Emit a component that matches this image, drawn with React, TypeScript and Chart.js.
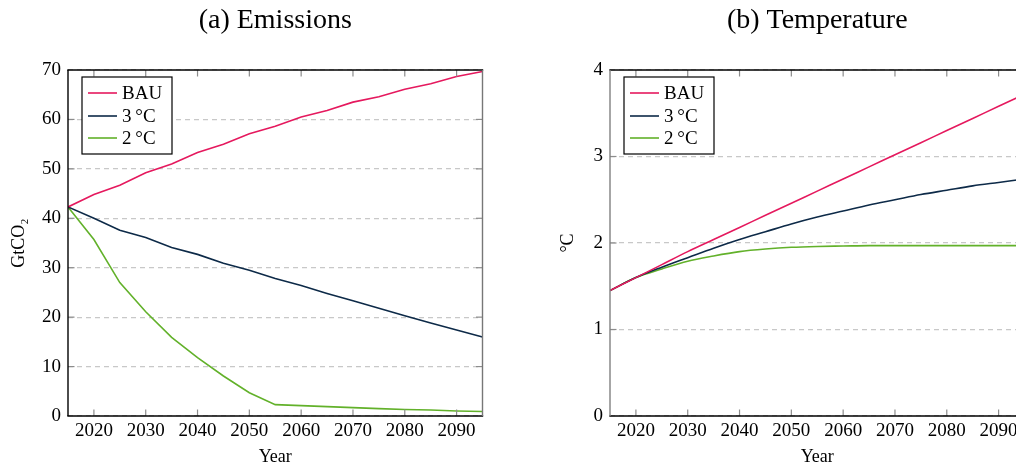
import React, { useEffect, useRef } from "react";
import { Chart, registerables } from "chart.js";

Chart.register(...registerables);

// ---------- data ----------
const years = [2015, 2020, 2025, 2030, 2035, 2040, 2045, 2050, 2055, 2060, 2065, 2070, 2075, 2080, 2085, 2090, 2095];

const emissionsBAU = [42.3, 44.8, 46.7, 49.2, 51.0, 53.3, 55.0, 57.1, 58.6, 60.5, 61.8, 63.5, 64.6, 66.1, 67.2, 68.7, 69.7];
const emissions3C = [42.3, 40.0, 37.6, 36.1, 34.1, 32.7, 30.9, 29.5, 27.8, 26.4, 24.8, 23.3, 21.8, 20.3, 18.8, 17.4, 16.0];
const emissions2C = [42.3, 35.7, 27.0, 21.1, 15.9, 11.8, 8.1, 4.7, 2.3, 2.1, 1.9, 1.7, 1.5, 1.3, 1.2, 1.0, 0.9];

const temperatureBAU = [1.45, 1.6, 1.75, 1.9, 2.04, 2.18, 2.32, 2.46, 2.6, 2.74, 2.88, 3.02, 3.16, 3.3, 3.44, 3.58, 3.72];
const temperature3C = [1.45, 1.6, 1.72, 1.83, 1.94, 2.04, 2.13, 2.22, 2.3, 2.37, 2.44, 2.5, 2.56, 2.61, 2.66, 2.7, 2.74];
const temperature2C = [1.45, 1.6, 1.7, 1.79, 1.85, 1.9, 1.93, 1.95, 1.96, 1.965, 1.97, 1.97, 1.97, 1.97, 1.97, 1.97, 1.97];

const seriesLabels = ["BAU", "3\u2009°C", "2\u2009°C"];
const seriesColors = ["#e5195e", "#0d2a48", "#62b12a"];

const xTickValues = [2020, 2030, 2040, 2050, 2060, 2070, 2080, 2090];
const emissionsTicks = [0, 10, 20, 30, 40, 50, 60, 70];
const temperatureTicks = [0, 1, 2, 3, 4];

const titleEmissions = "(a) Emissions";
const titleTemperature = "(b) Temperature";
const xTitle = "Year";
const yTitleEmissions = "GtCO\u2082";
const yTitleTemperature = "°C";

const FONT = "'Liberation Serif', 'Times New Roman', serif";

// ---------- decoration plugin (box, tick marks, legend, title) ----------
const decoPlugin = {
  id: "deco",
  afterDraw(chart: any, _args: any, opts: any) {
    const { ctx, chartArea: a } = chart;
    const xs = chart.scales.x;
    const ys = chart.scales.y;
    const seg = (x1: number, y1: number, x2: number, y2: number) => {
      ctx.beginPath();
      ctx.moveTo(x1, y1);
      ctx.lineTo(x2, y2);
      ctx.stroke();
    };
    ctx.save();
    ctx.setLineDash([]);
    // tick marks
    ctx.strokeStyle = "#8c8c8c";
    ctx.lineWidth = 1.2;
    const tl = 6.5;
    xs.ticks.forEach((t: any) => {
      const px = xs.getPixelForValue(t.value);
      seg(px, a.bottom, px, a.bottom - tl);
      seg(px, a.top, px, a.top + tl);
    });
    ys.ticks.forEach((t: any) => {
      const py = ys.getPixelForValue(t.value);
      if (Math.abs(py - a.top) < 1 || Math.abs(py - a.bottom) < 1) return;
      seg(a.left, py, a.left + tl, py);
      seg(a.right, py, a.right - tl, py);
    });
    // box
    ctx.lineWidth = 1.4;
    ctx.strokeStyle = "#000";
    seg(a.left - 0.7, a.top, a.right + 0.7, a.top);
    seg(a.left - 0.7, a.bottom, a.right + 0.7, a.bottom);
    ctx.strokeStyle = opts.leftColor || "#000";
    seg(a.left, a.top, a.left, a.bottom);
    ctx.strokeStyle = opts.rightColor || "#777";
    seg(a.right, a.top, a.right, a.bottom);

    // legend
    const bx = a.left + 14;
    const by = a.top + 7;
    ctx.fillStyle = "#fff";
    ctx.fillRect(bx, by, 90, 77);
    ctx.strokeStyle = "#000";
    ctx.lineWidth = 1.2;
    ctx.strokeRect(bx, by, 90, 77);
    const rows = [23, 46, 68];
    ctx.font = `19px ${FONT}`;
    ctx.textAlign = "left";
    ctx.textBaseline = "middle";
    chart.data.datasets.forEach((ds: any, i: number) => {
      const y = a.top + rows[i];
      ctx.strokeStyle = ds.borderColor;
      ctx.lineWidth = 1.6;
      seg(a.left + 20, y, a.left + 49, y);
      ctx.fillStyle = "#000";
      ctx.fillText(ds.label, a.left + 54, y + 1);
    });

    // title
    ctx.font = `28px ${FONT}`;
    ctx.textAlign = "center";
    ctx.textBaseline = "middle";
    ctx.fillStyle = "#000";
    ctx.fillText(opts.title, (a.left + a.right) / 2, 21);
    ctx.restore();
  },
};

function makeConfig(kind: "em" | "temp"): any {
  const isEm = kind === "em";
  const values = isEm ? [emissionsBAU, emissions3C, emissions2C] : [temperatureBAU, temperature3C, temperature2C];
  const yTicks = isEm ? emissionsTicks : temperatureTicks;
  const datasets = values.map((arr, i) => ({
    label: seriesLabels[i],
    data: years.map((x, j) => ({ x, y: arr[j] })),
    borderColor: seriesColors[i],
    backgroundColor: seriesColors[i],
    borderWidth: 1.6,
    pointRadius: 0,
    tension: isEm ? 0 : 0.4,
    cubicInterpolationMode: isEm ? "default" : "monotone",
    fill: false,
  }));
  const yAxisWidth = isEm ? 68 : 70;
  return {
    type: "line",
    data: { datasets },
    plugins: [decoPlugin],
    options: {
      animation: false,
      responsive: true,
      maintainAspectRatio: false,
      layout: { padding: { left: 0, top: 70, right: isEm ? 57.5 : 15.5, bottom: 0 } },
      plugins: {
        legend: { display: false },
        title: { display: false },
        tooltip: { enabled: false },
        deco: {
          title: isEm ? titleEmissions : titleTemperature,
          leftColor: isEm ? "#000" : "#808080",
          rightColor: "#777",
        },
      },
      scales: {
        x: {
          type: "linear",
          min: 2015,
          max: 2095,
          afterBuildTicks: (s: any) => {
            s.ticks = xTickValues.map((v) => ({ value: v }));
          },
          afterFit: (s: any) => {
            s.height = 52;
          },
          grid: { display: false, drawTicks: false },
          border: { display: false },
          ticks: {
            color: "#000",
            font: { family: FONT, size: 19 },
            padding: 4,
            maxRotation: 0,
            autoSkip: false,
            callback: (v: any) => String(v),
          },
          title: {
            display: true,
            text: xTitle,
            color: "#000",
            font: { family: FONT, size: 18 },
            padding: { top: 0, bottom: 0 },
          },
        },
        y: {
          type: "linear",
          min: 0,
          max: isEm ? 70 : 4,
          afterBuildTicks: (s: any) => {
            s.ticks = yTicks.map((v) => ({ value: v }));
          },
          afterFit: (s: any) => {
            s.width = yAxisWidth;
          },
          grid: {
            display: true,
            drawTicks: false,
            color: "#c8c8c8",
            lineWidth: 1.2,
          },
          border: { display: false, dash: [5, 4] },
          ticks: {
            color: "#000",
            font: { family: FONT, size: 19 },
            padding: 7,
            autoSkip: false,
            callback: (v: any) => String(v),
          },
          title: {
            display: true,
            text: isEm ? yTitleEmissions : yTitleTemperature,
            color: "#000",
            font: { family: FONT, size: 18 },
            padding: { top: isEm ? 8 : 17, bottom: 0 },
          },
        },
      },
    },
  };
}

function Panel({ kind, left, width }: { kind: "em" | "temp"; left: number; width: number }) {
  const ref = useRef<HTMLCanvasElement | null>(null);
  useEffect(() => {
    if (!ref.current) return;
    const chart = new Chart(ref.current, makeConfig(kind));
    return () => chart.destroy();
  }, [kind]);
  return (
    <div style={{ position: "absolute", left, top: 0, width, height: 468 }}>
      <canvas ref={ref} />
    </div>
  );
}

export default function App() {
  return (
    <div
      style={{
        position: "fixed",
        left: 0,
        top: 0,
        width: 1016,
        height: 468,
        overflow: "hidden",
        background: "#fff",
      }}
    >
      <Panel kind="em" left={0} width={540} />
      <Panel kind="temp" left={540} width={500} />
    </div>
  );
}
